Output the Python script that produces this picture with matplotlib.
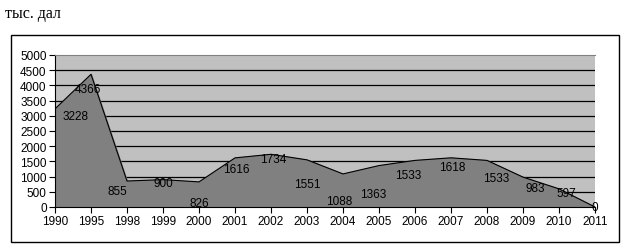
import matplotlib
matplotlib.use("Agg")
import matplotlib.pyplot as plt
from matplotlib.patches import Rectangle
import numpy as np

# данные
years = ['1990', '1995', '1998', '1999', '2000', '2001', '2002', '2003',
         '2004', '2005', '2006', '2007', '2008', '2009', '2010', '2011']
values = [3228, 4366, 855, 900, 826, 1616, 1734, 1551,
          1088, 1363, 1533, 1618, 1533, 983, 597, 0]

# смещения подписей (как в Excel)
label_dx = [0.56, -0.08, -0.28, 0.0, 0.0, 0.03, 0.05, 0.0,
            -0.1, -0.15, -0.2, 0.03, 0.25, 0.33, 0.2, 0.0]
label_dy = [-225, -484, -330, -110, -700, -366, -155, -794,
            -891, -935, -480, -302, -579, -358, -137, 0]

plt.rcParams['font.family'] = ['Liberation Sans', 'DejaVu Sans']

fig = plt.figure(figsize=(6.25, 2.53), dpi=100)
fig.patch.set_facecolor('white')

# рамка диаграммы
fig.patches.append(Rectangle((11 / 625, 1 - 243 / 253), 608 / 625, 207 / 253,
                             transform=fig.transFigure, fill=False,
                             edgecolor='black', linewidth=1.0))

fig.text(5 / 625, 1 - 18 / 253, 'тыс. дал', family='Liberation Serif',
         fontsize=11.5, ha='left', va='baseline')

ax = fig.add_axes([55 / 625, 1 - 208 / 253, 540 / 625, 152 / 253])
ax.set_facecolor('#c0c0c0')

x = np.arange(len(years))
ax.fill_between(x, values, 0, color='#808080', zorder=2)
ax.plot(x, values, color='black', linewidth=0.8, zorder=3)

for v in range(500, 5000, 500):
    ax.axhline(v, color='black', linewidth=0.9, zorder=1)

for i, v in enumerate(values):
    ax.text(x[i] + label_dx[i], v + label_dy[i], str(v), fontsize=8.5,
            ha='center', va='center', color='black', zorder=4)

ax.set_xlim(0, len(years) - 1)
ax.set_ylim(0, 5000)
ax.set_xticks(x)
ax.set_xticklabels(years)
ax.set_yticks(range(0, 5001, 500))
ax.tick_params(axis='both', labelsize=8.5, length=4, width=0.8, direction='out', pad=2)

ax.spines['right'].set_visible(False)
ax.spines['top'].set_color('#808080')
ax.spines['left'].set_linewidth(0.8)
ax.spines['bottom'].set_linewidth(0.8)

fig.savefig('out.png', dpi=100)
